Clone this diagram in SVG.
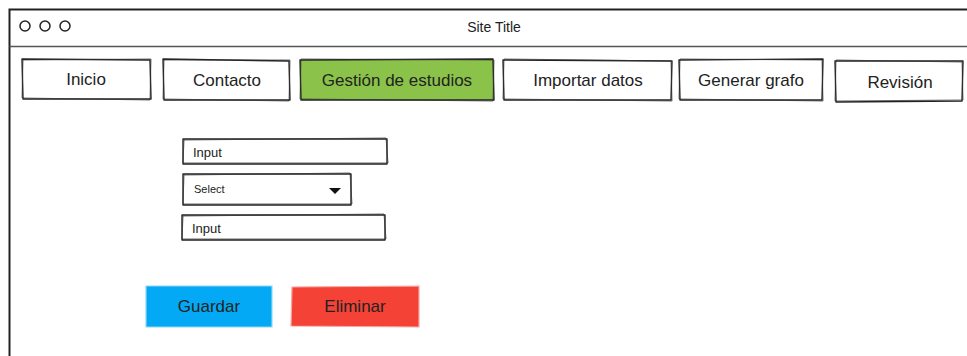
<svg xmlns="http://www.w3.org/2000/svg" width="967" height="356" viewBox="0 0 967 356">
  <style>
    .frame { fill: none; stroke: #222; stroke-width: 2; }
    .sep { fill: none; stroke: #555; stroke-width: 1.5; }
    .dot { fill: #fff; stroke: #222; stroke-width: 1.5; }
    .box { fill: #fff; stroke: #222; stroke-width: 1.4; stroke-linejoin: round; }
    .sketch { fill: none; stroke: #333; stroke-width: 0.9; opacity: 0.8; }
    .active { fill: #8BC34A; }
    .blue { fill: #03A9F4; stroke: #8fd6f8; stroke-width: 1.2; }
    .red { fill: #F44336; stroke: #f8a8a2; stroke-width: 1.2; }
    .tab { font-family: "Liberation Sans", "DejaVu Sans", sans-serif; font-size: 17px; fill: #222; text-anchor: middle; }
    .title { font-family: "Liberation Sans", "DejaVu Sans", sans-serif; font-size: 14px; fill: #222; text-anchor: middle; }
    .field { font-family: "Liberation Sans", "DejaVu Sans", sans-serif; font-size: 13px; fill: #222; }
    .small { font-family: "Liberation Sans", "DejaVu Sans", sans-serif; font-size: 11px; fill: #222; }
  </style>

  <!-- browser window (cut off at right and bottom) -->
  <g id="window">
    <path class="frame" d="M9.5 356 L9.5 9.5 L967 9.5"/>
    <path class="sep" d="M9.5 46.5 L967 46.5"/>
    <circle class="dot" cx="25" cy="26" r="5"/>
    <circle class="dot" cx="45" cy="26" r="5"/>
    <circle class="dot" cx="65" cy="26" r="5"/>
    <text class="title" x="494" y="32">Site Title</text>
  </g>

  <!-- navigation tabs -->
  <g id="tab-inicio">
    <path class="box" d="M22 59 L150 60 L151 99 L23 99 Z"/>
    <path class="sketch" d="M23 60 L151 59 L150 100 L22 98 Z"/>
    <text class="tab" x="86" y="85">Inicio</text>
  </g>
  <g id="tab-contacto">
    <path class="box" d="M163 59 L289 61 L290 100 L164 100 Z"/>
    <path class="sketch" d="M164 60 L290 60 L289 101 L163 99 Z"/>
    <text class="tab" x="227" y="86">Contacto</text>
  </g>
  <g id="tab-gestion">
    <path class="box active" d="M300 60 L493 59 L494 100 L301 100 Z"/>
    <path class="sketch" d="M301 59 L494 60 L493 101 L300 99 Z"/>
    <text class="tab" x="397" y="86">Gestión de estudios</text>
  </g>
  <g id="tab-importar">
    <path class="box" d="M503 60 L672 61 L671 100 L504 100 Z"/>
    <path class="sketch" d="M504 59 L671 61 L672 101 L503 99 Z"/>
    <text class="tab" x="588" y="86">Importar datos</text>
  </g>
  <g id="tab-generar">
    <path class="box" d="M679 60 L823 59 L822 100 L680 100 Z"/>
    <path class="sketch" d="M680 59 L822 60 L823 101 L679 99 Z"/>
    <text class="tab" x="751" y="86">Generar grafo</text>
  </g>
  <g id="tab-revision">
    <path class="box" d="M835 61 L963 61 L962 101 L836 102 Z"/>
    <path class="sketch" d="M836 60 L962 62 L963 100 L835 101 Z"/>
    <text class="tab" x="900" y="88">Revisión</text>
  </g>

  <!-- form fields -->
  <g id="input-1">
    <path class="box" d="M183 139 L387 139 L387 164 L183 164 Z"/>
    <path class="sketch" d="M184 140 L386 138 L388 163 L183 163 Z"/>
    <text class="field" x="193" y="157">Input</text>
  </g>
  <g id="select">
    <path class="box" d="M183 174 L351 174 L351 205 L183 205 Z"/>
    <path class="sketch" d="M184 175 L350 173 L352 204 L183 204 Z"/>
    <text class="small" x="194" y="193">Select</text>
    <path d="M329 188 L341 188 L335 194 Z" fill="#111"/>
  </g>
  <g id="input-2">
    <path class="box" d="M182 215 L385 215 L385 240 L182 240 Z"/>
    <path class="sketch" d="M183 216 L384 214 L386 239 L182 239 Z"/>
    <text class="field" x="192" y="233">Input</text>
  </g>

  <!-- action buttons -->
  <g id="btn-guardar">
    <path class="blue" d="M146 286 L272 286 L272 327 L146 327 Z"/>
    <text class="tab" x="209" y="312">Guardar</text>
  </g>
  <g id="btn-eliminar">
    <path class="red" d="M292 287 L419 286 L419 327 L291 326 Z"/>
    <text class="tab" x="355" y="312">Eliminar</text>
  </g>
</svg>
